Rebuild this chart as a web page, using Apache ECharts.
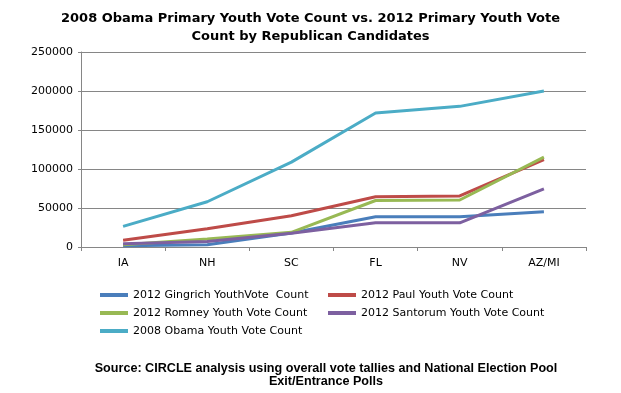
<!DOCTYPE html>
<html><head><meta charset="utf-8">
<script src="https://cdn.jsdelivr.net/npm/echarts@6/dist/echarts.min.js"></script>
<style>html,body{margin:0;padding:0;background:#fff}#c{width:621px;height:393px}</style>
</head><body><div id="c"></div>
<script>
const categories = ['IA','NH','SC','FL','NV','AZ/MI'];
const gingrich = [1700, 3000, 18000, 38700, 38700, 45200];
const paul = [8600, 23300, 40100, 64500, 65500, 112000];
const romney = [3000, 10200, 18800, 59600, 60300, 115300];
const santorum = [4200, 7000, 17500, 31000, 31000, 74500];
const obama = [26500, 58000, 108800, 171800, 180300, 200000];
const seriesNames = ['2012 Gingrich YouthVote  Count','2012 Paul Youth Vote Count','2012 Romney Youth Vote Count','2012 Santorum Youth Vote Count','2008 Obama Youth Vote Count'];
const colors = ['#4A7EBB','#BE4B48','#98B954','#7D60A0','#4BACC6'];
const data = [gingrich, paul, romney, santorum, obama];
const font = 'DejaVu Sans';
const chart = echarts.init(document.getElementById('c'));
const legendCommon = {
  orient:'vertical', itemWidth:28, itemHeight:4, icon:'rect', itemGap:4, padding:0,
  textStyle:{fontFamily:font, fontSize:11, color:'#000', lineHeight:14}
};
chart.setOption({
  animation:false,
  color: colors,
  title:[{
    text:'2008 Obama Primary Youth Vote Count vs. 2012 Primary Youth Vote\nCount by Republican Candidates',
    left:'center', top:5,
    textStyle:{fontFamily:font, fontSize:13, fontWeight:'bold', color:'#000', lineHeight:18}
  },{
    text:'Source: CIRCLE analysis using overall vote tallies and National Election Pool\nExit/Entrance Polls',
    left:326, textAlign:'center', top:362, padding:0,
    textStyle:{fontFamily:'Liberation Sans', fontSize:12.6, fontWeight:'bold', color:'#000', lineHeight:13}
  }],
  legend:[
    Object.assign({left:100, top:288, data:[seriesNames[0], seriesNames[2], seriesNames[4]]}, legendCommon),
    Object.assign({left:328, top:288, data:[seriesNames[1], seriesNames[3]]}, legendCommon)
  ],
  grid:{left:81, right:35, top:52, bottom:146},
  xAxis:{
    type:'category', data:categories, boundaryGap:true,
    axisLine:{lineStyle:{color:'#868686'}},
    axisTick:{show:true, interval:0, length:4, lineStyle:{color:'#868686'}},
    axisLabel:{fontFamily:font, fontSize:11, color:'#000', margin:11}
  },
  yAxis:{
    type:'value', min:0, max:250000, interval:50000,
    axisLine:{show:true, lineStyle:{color:'#868686'}},
    axisTick:{show:true, length:3, lineStyle:{color:'#868686'}},
    splitLine:{lineStyle:{color:'#868686'}},
    axisLabel:{fontFamily:font, fontSize:11, color:'#000', margin:8, formatter:v=>String(v)}
  },
  series: seriesNames.map((n,i)=>({
    name:n, type:'line', data:data[i], symbol:'none',
    lineStyle:{width:3, color:colors[i]}, itemStyle:{color:colors[i]}
  }))
});
</script></body></html>
